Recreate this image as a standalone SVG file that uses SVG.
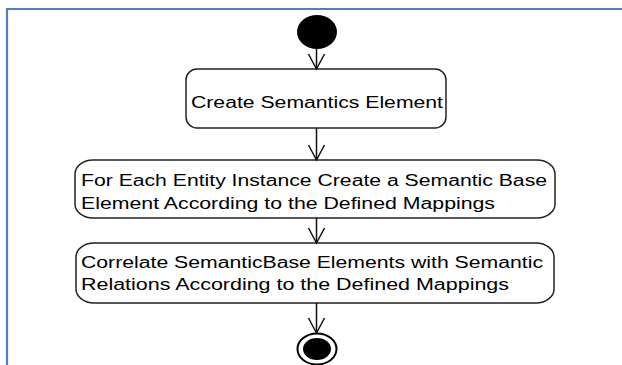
<svg xmlns="http://www.w3.org/2000/svg" width="622" height="365" viewBox="0 0 622 365">
<defs>
<style>
.frame{stroke:#4f81bd;stroke-width:2.2;fill:none}
.box{fill:#fff;stroke:#222;stroke-width:1.5}
.t{font-family:"Liberation Sans",Arial,sans-serif;font-size:16px;fill:#000}
.edge{stroke:#111;stroke-width:1.5;fill:none}
</style>
<marker id="v" viewBox="0 0 20 20" refX="17" refY="10" markerWidth="20" markerHeight="20" markerUnits="userSpaceOnUse" orient="auto">
<path d="M2 2 L17 10 L2 18" fill="none" stroke="#111" stroke-width="1.5"/>
</marker>
</defs>
<rect width="622" height="365" fill="#fff"/>
<path class="frame" d="M7 365 V9 H622"/>
<g id="start">
<ellipse cx="317" cy="32" rx="20" ry="17" fill="#000"/>
</g>
<g id="n1">
<rect class="box" x="186" y="69" width="260" height="59" rx="11" ry="11"/>
<text class="t" x="191" y="107.5" textLength="252" lengthAdjust="spacingAndGlyphs">Create Semantics Element</text>
</g>
<g id="n2">
<rect class="box" x="75" y="160" width="480" height="58" rx="18" ry="14"/>
<text class="t" x="81" y="186" textLength="466" lengthAdjust="spacingAndGlyphs">For Each Entity Instance Create a Semantic Base</text>
<text class="t" x="81" y="208.5" textLength="414" lengthAdjust="spacingAndGlyphs">Element According to the Defined Mappings</text>
</g>
<g id="n3">
<rect class="box" x="76" y="243" width="478" height="60" rx="18" ry="14"/>
<text class="t" x="81" y="267.5" textLength="462" lengthAdjust="spacingAndGlyphs">Correlate SemanticBase Elements with Semantic</text>
<text class="t" x="81" y="290" textLength="428" lengthAdjust="spacingAndGlyphs">Relations According to the Defined Mappings</text>
</g>
<g id="end">
<ellipse cx="317" cy="349" rx="19.5" ry="15.5" fill="#fff" stroke="#000" stroke-width="2"/>
<ellipse cx="317" cy="349" rx="14" ry="11" fill="#000"/>
</g>
<g id="connectors">
<line class="edge" x1="316.5" y1="49" x2="316.5" y2="69" marker-end="url(#v)"/>
<line class="edge" x1="316.5" y1="128" x2="316.5" y2="160" marker-end="url(#v)"/>
<line class="edge" x1="316.5" y1="218" x2="316.5" y2="243" marker-end="url(#v)"/>
<line class="edge" x1="316.5" y1="303" x2="316.5" y2="333" marker-end="url(#v)"/>
</g>
</svg>
